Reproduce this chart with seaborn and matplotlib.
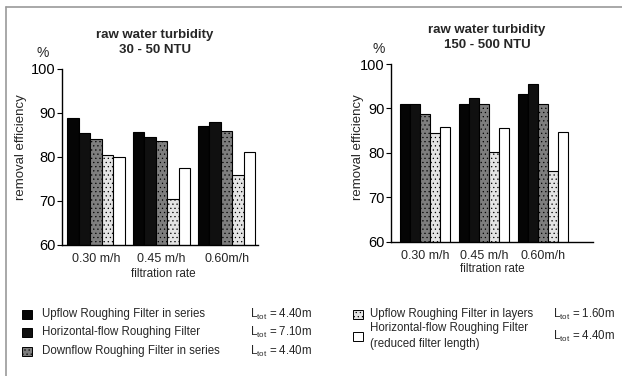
import matplotlib
matplotlib.use("Agg")
import matplotlib.pyplot as plt
from matplotlib.patches import Rectangle
from matplotlib.lines import Line2D
import seaborn as sns
import pandas as pd

# ---- data ----
rates = ["0.30 m/h", "0.45 m/h", "0.60m/h"]
filters = ["Upflow Roughing Filter in series",
           "Horizontal-flow Roughing Filter",
           "Downflow Roughing Filter in series",
           "Upflow Roughing Filter in layers",
           "Horizontal-flow Roughing Filter\n(reduced filter length)"]
lengths = ["4.40m", "7.10m", "4.40m", "1.60m", "4.40m"]

# raw water turbidity 30 - 50 NTU
low_urf_series = [88.8, 85.7, 87.1]
low_hrf = [85.5, 84.6, 87.9]
low_drf_series = [84.1, 83.6, 86.0]
low_urf_layers = [80.4, 70.5, 75.8]
low_hrf_reduced = [80.0, 77.4, 81.2]

# raw water turbidity 150 - 500 NTU
high_urf_series = [91.0, 90.9, 93.3]
high_hrf = [91.0, 92.3, 95.6]
high_drf_series = [88.8, 91.0, 91.0]
high_urf_layers = [84.5, 80.2, 76.0]
high_hrf_reduced = [85.8, 85.7, 84.7]

low_series = [low_urf_series, low_hrf, low_drf_series, low_urf_layers, low_hrf_reduced]
high_series = [high_urf_series, high_hrf, high_drf_series, high_urf_layers, high_hrf_reduced]

yticks = [60, 70, 80, 90, 100]

colors = ["#050505", "#101010", "#7e7e7e", "#e4e4e4", "#ffffff"]
hatches = [None, None, "....", "....", None]

sns.set_theme(style="white")
plt.rcParams["font.family"] = ["Liberation Sans", "DejaVu Sans"]
plt.rcParams["mathtext.fontset"] = "custom"
plt.rcParams["mathtext.rm"] = "Liberation Sans"
plt.rcParams["mathtext.it"] = "Liberation Sans"
plt.rcParams["hatch.linewidth"] = 0.4

W, H = 622, 376
fig = plt.figure(figsize=(W / 100, H / 100), dpi=100)
fig.patch.set_facecolor("white")


def fx(px):
    return px / W


def fy(py):
    return 1 - py / H


def long_df(series):
    rows = []
    for f, vals in zip(filters, series):
        for r, v in zip(rates, vals):
            rows.append({"rate": r, "filter": f, "value": v})
    return pd.DataFrame(rows)


def panel(rect, series, width, xlim):
    ax = fig.add_axes(rect)
    df = long_df(series)
    sns.barplot(data=df, x="rate", y="value", hue="filter", order=rates,
                hue_order=filters, palette=colors, width=width, gap=0,
                edgecolor="black", linewidth=0.8, saturation=1,
                legend=False, ax=ax, errorbar=None)
    for i, cont in enumerate(ax.containers):
        for bar in cont:
            if hatches[i]:
                bar.set_hatch(hatches[i])
    ax.set_ylim(60, 100)
    ax.set_xlim(*xlim)
    ax.set_yticks(yticks)
    ax.set_yticklabels([str(t) for t in yticks], fontsize=10.5)
    ax.tick_params(axis="y", direction="out", length=3.5, width=0.8, pad=1,
                   left=True, colors="black")
    ax.tick_params(axis="x", length=0, labelsize=9, pad=5.5)
    for s in ["top", "right"]:
        ax.spines[s].set_visible(False)
    for s in ["left", "bottom"]:
        ax.spines[s].set_color("black")
        ax.spines[s].set_linewidth(1.0)
    ax.set_xlabel("")
    ax.set_ylabel("")
    ax.set_facecolor("white")
    return ax


# left: axis x 62..258, y(100)=69, y(60)=245
axL = panel([fx(62), fy(245), (258 - 62) / W, (245 - 69) / H],
            low_series, 0.88, (-0.52, 2.48))
# right: axis x 391..593, y(100)=64, y(60)=242
axR = panel([fx(391), fy(242), (593 - 391) / W, (242 - 64) / H],
            high_series, 0.85, (-0.58, 2.85))

# titles and labels
fig.text(fx(155), fy(35), "raw water turbidity", ha="center", va="center",
         fontsize=9.5, fontweight="bold")
fig.text(fx(155), fy(50), "30 - 50 NTU", ha="center", va="center",
         fontsize=9.5, fontweight="bold")
fig.text(fx(487), fy(30), "raw water turbidity", ha="center", va="center",
         fontsize=9.5, fontweight="bold")
fig.text(fx(487), fy(45), "150 - 500 NTU", ha="center", va="center",
         fontsize=9.5, fontweight="bold")

fig.text(fx(43), fy(53), "%", ha="center", va="center", fontsize=10)
fig.text(fx(379), fy(49), "%", ha="center", va="center", fontsize=10)

fig.text(fx(21), fy(147), "removal efficiency", rotation=90, ha="center",
         va="center", fontsize=9.5)
fig.text(fx(358), fy(147), "removal efficiency", rotation=90, ha="center",
         va="center", fontsize=9.5)

fig.text(fx(163), fy(274), "filtration rate", ha="center", va="center", fontsize=8.5)
fig.text(fx(492), fy(269), "filtration rate", ha="center", va="center", fontsize=8.5)

# legend
rows_y = [314, 332, 351]
for i in range(3):
    y = rows_y[i]
    r = Rectangle((fx(22), fy(y + 4.5)), 10 / W, 9 / H, transform=fig.transFigure,
                  facecolor=colors[i], edgecolor="black", linewidth=0.7,
                  hatch=hatches[i])
    fig.add_artist(r)
    fig.text(fx(42), fy(y), filters[i], ha="left", va="center", fontsize=8.3)
    fig.text(fx(250), fy(y), r"L$_{\mathrm{tot}}$ = " + lengths[i], ha="left",
             va="center", fontsize=8.3)

col2 = [(314, 314), (336, 336)]
for j, i in enumerate([3, 4]):
    py, ly = col2[j]
    r = Rectangle((fx(353), fy(py + 4.5)), 10 / W, 9 / H, transform=fig.transFigure,
                  facecolor=colors[i], edgecolor="black", linewidth=0.7,
                  hatch=hatches[i])
    fig.add_artist(r)
    fig.text(fx(370), fy(ly), filters[i], ha="left", va="center", fontsize=8.3,
             linespacing=1.35)
    fig.text(fx(553), fy(ly), r"L$_{\mathrm{tot}}$ = " + lengths[i], ha="left",
             va="center", fontsize=8.3)

# frame (left and top edges visible)
fig.add_artist(Line2D([fx(6), fx(6)], [fy(7), 0], transform=fig.transFigure,
                      color="#9a9a9a", linewidth=1.2))
fig.add_artist(Line2D([fx(6), 1], [fy(7), fy(7)], transform=fig.transFigure,
                      color="#9a9a9a", linewidth=1.2))

fig.savefig("out.png", dpi=100, facecolor="white")
